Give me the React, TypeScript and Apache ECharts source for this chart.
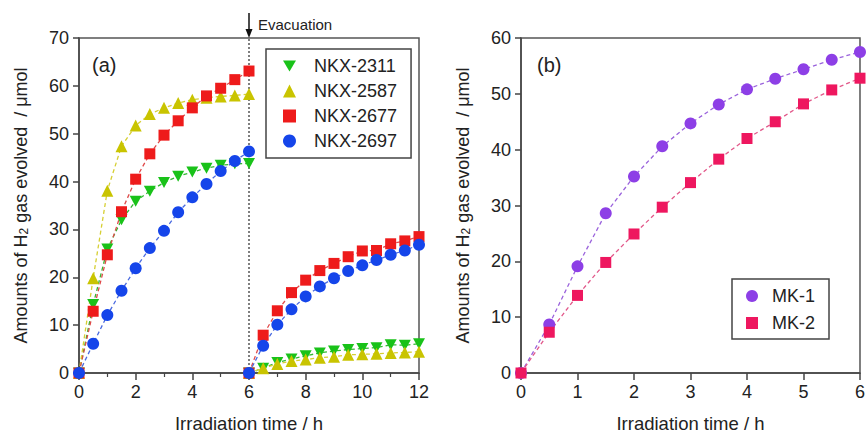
import React, { useEffect, useRef } from 'react';
import * as echarts from 'echarts';

const timeA1 = [0, 0.5, 1, 1.5, 2, 2.5, 3, 3.5, 4, 4.5, 5, 5.5, 6];
const timeA2 = [6, 6.5, 7, 7.5, 8, 8.5, 9, 9.5, 10, 10.5, 11, 11.5, 12];
const nkx2311_1 = [0, 14.3, 25.9, 32.0, 35.9, 38.0, 39.8, 41.1, 42.0, 42.8, 43.4, 43.7, 43.8];
const nkx2311_2 = [0, 1.0, 2.2, 2.9, 3.6, 4.2, 4.6, 4.9, 5.1, 5.3, 5.9, 5.8, 6.1];
const nkx2587_1 = [0, 19.8, 38.1, 47.4, 51.7, 54.1, 55.4, 56.4, 57.1, 57.5, 57.8, 58.0, 58.3];
const nkx2587_2 = [0, 1.0, 1.9, 2.5, 2.8, 3.2, 3.4, 3.8, 3.9, 4.0, 4.2, 4.3, 4.45];
const nkx2677_1 = [0, 12.9, 24.7, 33.7, 40.5, 45.8, 49.7, 52.7, 55.4, 57.9, 59.5, 61.3, 63.1];
const nkx2677_2 = [0, 7.9, 13.0, 16.8, 19.4, 21.4, 22.9, 24.3, 25.5, 25.6, 27.0, 27.6, 28.5];
const nkx2697_1 = [0, 6.1, 12.1, 17.2, 21.9, 26.1, 29.7, 33.6, 36.7, 39.5, 42.2, 44.3, 46.3];
const nkx2697_2 = [0, 5.7, 10.1, 13.3, 16.0, 18.1, 19.8, 21.3, 22.5, 23.6, 24.7, 25.6, 26.8];

const timeB = [0, 0.5, 1, 1.5, 2, 2.5, 3, 3.5, 4, 4.5, 5, 5.5, 6];
const mk1 = [0, 8.7, 19.1, 28.6, 35.2, 40.6, 44.7, 48.1, 50.8, 52.7, 54.4, 56.1, 57.5];
const mk2 = [0, 7.3, 13.9, 19.8, 24.9, 29.7, 34.1, 38.3, 42.0, 45.0, 48.2, 50.7, 52.8];

const xTicksA = { min: 0, max: 12, interval: 2 };
const yTicksA = { min: 0, max: 70, interval: 10 };
const xTicksB = { min: 0, max: 6, interval: 1 };
const yTicksB = { min: 0, max: 60, interval: 10 };

const FONT = "'Liberation Sans', Arial, sans-serif";
const DOWN_TRI = 'path://M0,0L20,0L10,17.3Z';

const zip = (xs: number[], ys: number[]) => xs.map((x, i) => [x, ys[i]]);

export default function App() {
  const ref = useRef<HTMLDivElement>(null);
  useEffect(() => {
    const chart = echarts.init(ref.current!, null, { renderer: 'svg' });
    const axisColor = '#444';
    const mkX = (gi: number, t: any, minor: boolean) => ({
      type: 'value',
      gridIndex: gi,
      min: t.min,
      max: t.max,
      interval: t.interval,
      name: 'Irradiation time / h',
      nameLocation: 'middle',
      nameGap: 41,
      nameTextStyle: { fontSize: 18.5, color: '#222', fontFamily: FONT },
      axisLine: { show: true, lineStyle: { color: axisColor, width: 1.5 } },
      axisTick: { show: true, inside: false, length: 7, lineStyle: { color: axisColor, width: 1.5 } },
      minorTick: { show: minor, splitNumber: 2, length: 4, lineStyle: { color: axisColor, width: 1.2 } },
      axisLabel: { fontSize: 18, color: '#222', margin: 10, fontFamily: FONT },
      splitLine: { show: false },
    });
    const mkY = (gi: number, t: any) => ({
      type: 'value',
      gridIndex: gi,
      min: t.min,
      max: t.max,
      interval: t.interval,
      name: 'Amounts of H{sub|2} gas evolved  / μmol',
      nameLocation: 'middle',
      nameRotate: 90,
      nameGap: 49,
      nameTextStyle: {
        fontSize: 18,
        color: '#222',
        fontFamily: FONT,
        rich: { sub: { fontSize: 12, fontFamily: FONT, color: '#222', verticalAlign: 'bottom', padding: [6, 0, 0, 0] } },
      },
      axisLine: { show: true, lineStyle: { color: axisColor, width: 1.5 } },
      axisTick: { show: true, inside: false, length: 6, lineStyle: { color: axisColor, width: 1.5 } },
      axisLabel: { fontSize: 18, color: '#222', margin: 10, fontFamily: FONT },
      splitLine: { show: false },
    });

    const mkSeries = (name: string, xi: number, data: number[][], color: string, lineColor: string, symbol: string, size: any, extra: any = {}) => ({
      type: 'line',
      name,
      xAxisIndex: xi,
      yAxisIndex: xi,
      data,
      symbol,
      symbolSize: size,
      showSymbol: true,
      itemStyle: { color, opacity: 1 },
      lineStyle: { color: lineColor, width: 1.3, type: [4, 3] },
      z: 3,
      ...extra,
    });

    const c2311 = '#19c219', c2587 = '#c9c400', c2677 = '#ee1b1b', c2697 = '#1545ea';
    const cmk1 = '#8d3fe6', cmk2 = '#ee175f';

    const series: any[] = [
      mkSeries('NKX-2311', 0, zip(timeA1, nkx2311_1), c2311, '#33b833', DOWN_TRI, [12, 11], {
        markLine: {
          silent: true,
          symbol: ['none', 'none'],
          label: { show: false },
          lineStyle: { color: '#555', type: [2, 2], width: 1.5 },
          data: [{ xAxis: 6 }],
          z: 1,
        },
      }),
      mkSeries('NKX-2311', 0, zip(timeA2, nkx2311_2), c2311, '#33b833', DOWN_TRI, [12, 11]),
      mkSeries('NKX-2587', 0, zip(timeA1, nkx2587_1), c2587, '#d6cf33', 'triangle', 12),
      mkSeries('NKX-2587', 0, zip(timeA2, nkx2587_2), c2587, '#d6cf33', 'triangle', 12),
      mkSeries('NKX-2677', 0, zip(timeA1, nkx2677_1), c2677, '#e04a4a', 'rect', 11),
      mkSeries('NKX-2677', 0, zip(timeA2, nkx2677_2), c2677, '#e04a4a', 'rect', 11),
      mkSeries('NKX-2697', 0, zip(timeA1, nkx2697_1), c2697, '#4a6ae0', 'circle', 12),
      mkSeries('NKX-2697', 0, zip(timeA2, nkx2697_2), c2697, '#4a6ae0', 'circle', 12),
      mkSeries('MK-1', 1, zip(timeB, mk1), cmk1, '#9a62dc', 'circle', 12),
      mkSeries('MK-2', 1, zip(timeB, mk2), cmk2, '#e2588a', 'rect', 11),
    ];

    const labels = [
      { type: 'text', left: 92, top: 55, style: { text: '(a)', fontSize: 20, fill: '#222', fontFamily: FONT } },
      { type: 'text', left: 537, top: 55, style: { text: '(b)', fontSize: 20, fill: '#222', fontFamily: FONT } },
    ];

    const option: any = {
      animation: false,
      backgroundColor: '#fff',
      textStyle: { fontFamily: FONT },
      grid: [
        { left: 79, top: 38, width: 340, height: 341, show: true, borderColor: '#555', borderWidth: 1.5, backgroundColor: 'transparent' },
        { left: 521, top: 38, width: 341, height: 341, show: true, borderColor: '#555', borderWidth: 1.5, backgroundColor: 'transparent' },
      ],
      xAxis: [mkX(0, xTicksA, true), mkX(1, xTicksB, false)],
      yAxis: [mkY(0, yTicksA), mkY(1, yTicksB)],
      legend: [
        {
          orient: 'vertical',
          left: 266,
          top: 49,
          padding: [8, 14, 8, 17],
          itemGap: 7,
          itemWidth: 13,
          itemHeight: 13,
          borderColor: '#444',
          borderWidth: 1.5,
          borderRadius: 0,
          backgroundColor: '#fff',
          selectedMode: false,
          textStyle: { fontSize: 18, color: '#222', fontFamily: FONT, padding: [0, 0, 0, 13] },
          data: [
            { name: 'NKX-2311', icon: DOWN_TRI },
            { name: 'NKX-2587', icon: 'triangle' },
            { name: 'NKX-2677', icon: 'rect' },
            { name: 'NKX-2697', icon: 'circle' },
          ],
        },
        {
          orient: 'vertical',
          left: 732,
          top: 279,
          padding: [8, 14, 7, 14],
          itemGap: 9,
          itemWidth: 12,
          itemHeight: 12,
          borderColor: '#444',
          borderWidth: 1.5,
          borderRadius: 0,
          backgroundColor: '#fff',
          selectedMode: false,
          textStyle: { fontSize: 18, color: '#222', fontFamily: FONT, padding: [0, 0, 0, 9] },
          data: [
            { name: 'MK-1', icon: 'circle' },
            { name: 'MK-2', icon: 'rect' },
          ],
        },
      ],
      graphic: labels,
      series,
    };
    chart.setOption(option);

    const top = chart.convertToPixel({ gridIndex: 0 } as any, [6, yTicksA.max]) as number[];
    if (top) {
      const [px, py] = top;
      chart.setOption({
        graphic: [
          ...labels,
          { type: 'line', shape: { x1: px, y1: py - 25, x2: px, y2: py - 6 }, style: { stroke: '#111', lineWidth: 1.5 }, z: 10 },
          { type: 'polygon', shape: { points: [[px - 3.5, py - 9], [px + 3.5, py - 9], [px, py]] }, style: { fill: '#111' }, z: 10 },
          { type: 'text', x: px + 9, y: py - 14, style: { text: 'Evacuation', fontSize: 15, fill: '#222', fontFamily: FONT, verticalAlign: 'middle' }, z: 10 },
        ],
      });
    }
    return () => chart.dispose();
  }, []);
  return <div ref={ref} style={{ position: 'fixed', left: 0, top: 0, width: 868, height: 438 }} />;
}
